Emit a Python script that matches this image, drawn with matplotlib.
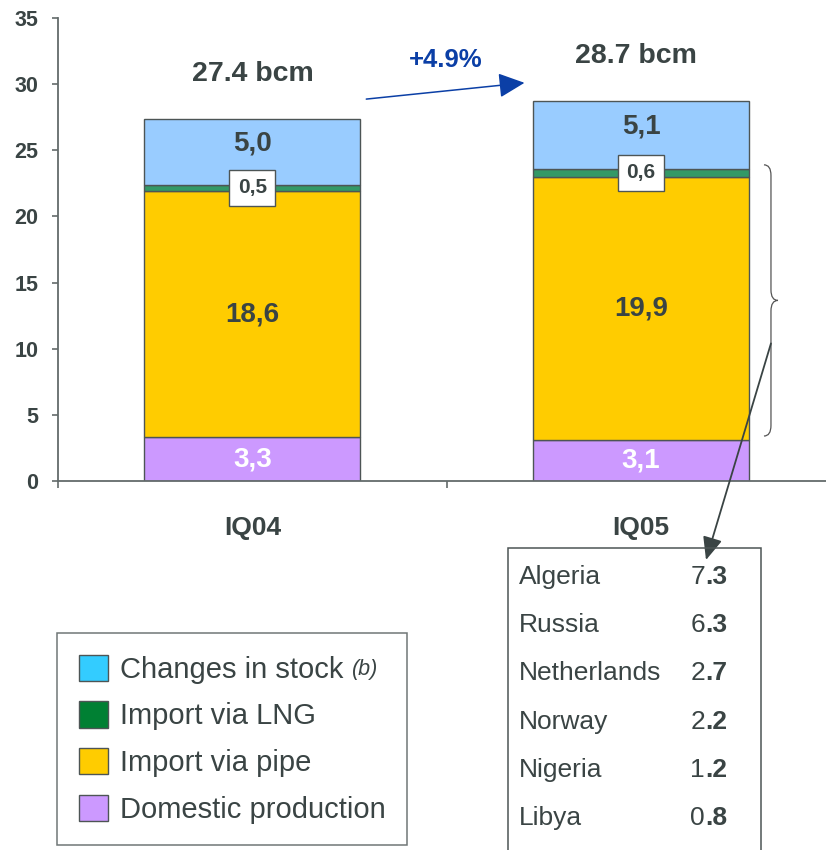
import numpy as np
import matplotlib.pyplot as plt
from matplotlib.patches import Patch, Rectangle, PathPatch
from matplotlib.path import Path

plt.rcParams['font.family'] = ['Liberation Sans', 'DejaVu Sans']

# gas supply by source, bcm
quarters = ['IQ04', 'IQ05']
domestic = [3.3, 3.1]
pipe = [18.6, 19.9]
lng = [0.5, 0.6]
stock = [5.0, 5.1]
totals = [27.4, 28.7]
growth = '+4.9%'
legend_names = ['Changes in stock', 'Import via LNG', 'Import via pipe', 'Domestic production']
countries = ['Algeria', 'Russia', 'Netherlands', 'Norway', 'Nigeria', 'Libya']
country_vals = ['7.3', '6.3', '2.7', '2.2', '1.2', '0.8']

txt = '#3A4444'
edge = '#4D5555'
axcol = '#636B6B'
blue = '#0B3FA6'
W, H = 826, 850

def fx(px):
    return px / W

def fy(py):
    return 1 - py / H

fig = plt.figure(figsize=(W / 100, H / 100), dpi=100)
ax = fig.add_axes([fx(58), fy(481), 777.5 / W, 463 / H])

x = np.arange(len(quarters))
w = 0.555
bottom = np.zeros(len(x))
layers = [(domestic, '#CC99FF'), (pipe, '#FFCC00'), (lng, '#339966'), (stock, '#99CCFF')]
tops = []
for vals, col in layers:
    ax.bar(x, vals, w, bottom=bottom, color=col, edgecolor=edge, linewidth=1.0, zorder=2)
    bottom = bottom + np.array(vals)
    tops.append(bottom.copy())

def fmt(v):
    return f'{v:.1f}'.replace('.', ',')

for i in x:
    ax.text(i, domestic[i] / 2, fmt(domestic[i]), ha='center', va='center',
            fontsize=20, fontweight='bold', color='white', zorder=3)
    ax.text(i, domestic[i] + pipe[i] / 2, fmt(pipe[i]), ha='center', va='center',
            fontsize=20, fontweight='bold', color=txt, zorder=3)
    ax.text(i, tops[1][i] + lng[i] / 2, fmt(lng[i]), ha='center', va='center',
            fontsize=15, fontweight='bold', color=txt, zorder=4,
            bbox=dict(boxstyle='square,pad=0.4', fc='white', ec=edge, lw=1.0))
    ax.annotate(fmt(stock[i]), (i, tops[3][i]), xytext=(0, -25), textcoords='offset pixels',
                ha='center', va='center', fontsize=20, fontweight='bold', color=txt, zorder=3)
    ax.annotate(f'{totals[i]} bcm', (i, totals[i]), xytext=(-5 * i, 45), textcoords='offset pixels',
                ha='center', va='center', fontsize=20.5, fontweight='bold', color=txt,
                annotation_clip=False)

# growth arrow between the two totals
ax.annotate('', xy=(x[1] - 0.30, totals[1] + 1.4), xytext=(x[0] + 0.293, totals[0] + 1.47),
            arrowprops=dict(arrowstyle='-|>,head_length=0.8,head_width=0.38', color=blue,
                            lw=1.1, shrinkA=0, shrinkB=0, mutation_scale=20))
ax.text(0.496, 31.8, growth, ha='center', va='center', fontsize=18.5,
        fontweight='bold', color=blue)

# brace around imports of IQ05
y0 = domestic[1] + 0.3
y1 = domestic[1] + pipe[1] + lng[1] + 0.3
ym = (y0 + y1) / 2
bx0, bx1, bx2 = 1.316, 1.334, 1.352
d = 0.8
verts = [(bx0, y1), (bx1, y1), (bx1, y1 - d), (bx1, ym + d), (bx1, ym), (bx2, ym),
         (bx1, ym), (bx1, ym - d), (bx1, y0 + d), (bx1, y0), (bx0, y0)]
codes = [Path.MOVETO, Path.CURVE3, Path.CURVE3, Path.LINETO, Path.CURVE3, Path.CURVE3,
         Path.CURVE3, Path.CURVE3, Path.LINETO, Path.CURVE3, Path.CURVE3]
ax.add_patch(PathPatch(Path(verts, codes), fill=False, ec='#555555', lw=0.9, clip_on=False))

ax.annotate('', xy=(706, H - 560), xycoords='figure pixels', xytext=(bx1, 10.4),
            textcoords='data',
            arrowprops=dict(arrowstyle='-|>,head_length=0.7,head_width=0.3', color=txt,
                            lw=1.3, shrinkA=0, shrinkB=0, mutation_scale=20))

# axes styling
ax.set_xlim(-0.5, 1.5)
ax.set_ylim(0, 35)
yt = np.arange(0, 36, 5)
ax.set_yticks(yt)
ax.set_yticklabels([str(v) for v in yt], fontweight='bold')
ax.set_xticks([-0.5, 0.5, 1.5])
ax.set_xticklabels([])
ax.set_xticks(x, minor=True)
ax.set_xticklabels(quarters, minor=True, fontweight='bold')
for s in ['top', 'right']:
    ax.spines[s].set_visible(False)
for s in ['left', 'bottom']:
    ax.spines[s].set_color(axcol)
    ax.spines[s].set_linewidth(1.3)
ax.tick_params(axis='y', length=4, width=1.2, color=axcol, pad=10, labelsize=15.5,
               labelcolor=txt)
ax.tick_params(axis='x', which='major', length=5, width=1.2, color=axcol)
ax.tick_params(axis='x', which='minor', length=0, pad=25, labelsize=19, labelcolor=txt)

# legend
leg_colors = ['#33CCFF', '#008033', '#FFCC00', '#CC99FF']
handles = [Patch(fc=c, ec=edge, lw=1.0) for c in leg_colors]
leg = fig.legend(handles, legend_names, loc='upper left', bbox_to_anchor=(fx(57), fy(633)),
                 borderaxespad=0, fontsize=21, frameon=True, fancybox=False,
                 handlelength=1.0, handleheight=1.0, handletextpad=0.4,
                 labelspacing=0.6, borderpad=0.75)
leg.get_frame().set_edgecolor(edge)
leg.get_frame().set_linewidth(1.1)
for t in leg.get_texts():
    t.set_color(txt)

# country breakdown box
fig.add_artist(Rectangle((fx(508), fy(880)), (761 - 508) / W, (880 - 548) / H,
                         transform=fig.transFigure, fill=False, ec=edge, lw=1.1))
fig.canvas.draw()
renderer = fig.canvas.get_renderer()
for k, (name, val) in enumerate(zip(countries, country_vals)):
    yy = fy(577 + 48.2 * k)
    fig.text(fx(519), yy, name, ha='left', va='center', fontsize=19, color=txt)
    whole, dec = val.split('.')
    tb = fig.text(fx(727), yy, '.' + dec, ha='right', va='center', fontsize=19,
                  fontweight='bold', color=txt)
    left = tb.get_window_extent(renderer).x0
    fig.text(left / W, yy, whole, ha='right', va='center', fontsize=19, color=txt)

# footnote marker after the first legend entry
ext = leg.get_texts()[0].get_window_extent(renderer)
fig.text((ext.x1 + 9) / W, (ext.y0 + ext.y1) / 2 / H, '(b)', ha='left', va='center',
         fontsize=15.5, fontstyle='italic', color=txt, zorder=10)

fig.savefig('out.png', dpi=100)
